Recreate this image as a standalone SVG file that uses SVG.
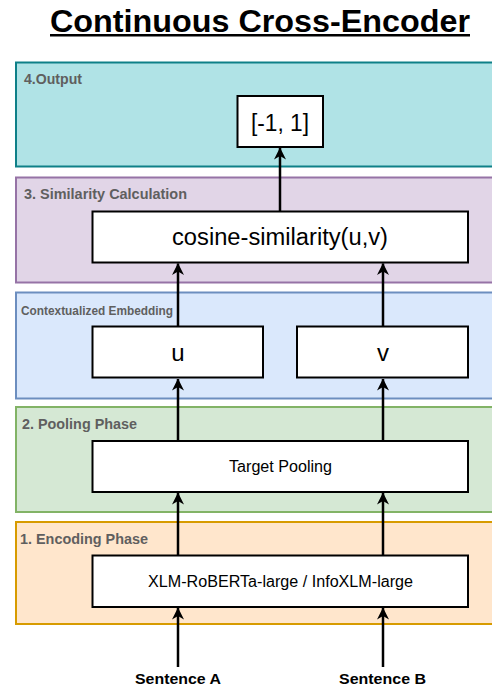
<svg xmlns="http://www.w3.org/2000/svg" width="492" height="686" viewBox="0 0 492 686">
<style>
.layer{stroke-width:2}
.lbl{font-family:"Liberation Sans",Arial,sans-serif;font-weight:bold;fill:#5f5f5f}
.node{fill:#ffffff;stroke:#000000;stroke-width:2}
.nt{font-family:"Liberation Sans",Arial,sans-serif;fill:#000000;text-anchor:middle}
.conn{stroke:#000000;stroke-width:2.5;fill:none;marker-end:url(#ah)}
.sent{font-family:"Liberation Sans",Arial,sans-serif;font-weight:bold;font-size:15px;fill:#000000;text-anchor:middle}
</style>
<defs>
<marker id="ah" viewBox="0 0 12 12" refX="11.5" refY="6" markerWidth="12" markerHeight="12" markerUnits="userSpaceOnUse" orient="auto">
<path d="M0,0 L12,6 L0,12 L3.5,6 z" fill="#000000"/>
</marker>
</defs>
<rect width="492" height="686" fill="#ffffff"/>
<g id="title">
<text x="260" y="32" text-anchor="middle" font-family="'Liberation Sans',Arial,sans-serif" font-weight="bold" font-size="31" textLength="420" lengthAdjust="spacingAndGlyphs" fill="#000000">Continuous Cross-Encoder</text>
<rect x="50" y="34" width="420" height="2.5" fill="#000000"/>
</g>
<g id="layer-output">
<rect class="layer" x="16" y="62.5" width="490" height="104" fill="#b0e3e6" stroke="#0e8088"/>
<text class="lbl" x="24" y="84" font-size="14" textLength="58" lengthAdjust="spacingAndGlyphs">4.Output</text>
</g>
<g id="layer-similarity">
<rect class="layer" x="16" y="177.5" width="490" height="105" fill="#e1d5e7" stroke="#9673a6"/>
<text class="lbl" x="24" y="199" font-size="14" textLength="163" lengthAdjust="spacingAndGlyphs">3. Similarity Calculation</text>
</g>
<g id="layer-embedding">
<rect class="layer" x="16" y="292.5" width="490" height="106" fill="#dae8fc" stroke="#6c8ebf"/>
<text class="lbl" x="21" y="315" font-size="12" textLength="152" lengthAdjust="spacingAndGlyphs">Contextualized Embedding</text>
</g>
<g id="layer-pooling">
<rect class="layer" x="16" y="407" width="490" height="105" fill="#d5e8d4" stroke="#82b366"/>
<text class="lbl" x="22" y="429" font-size="14" textLength="115" lengthAdjust="spacingAndGlyphs">2. Pooling Phase</text>
</g>
<g id="layer-encoding">
<rect class="layer" x="16" y="522" width="490" height="102" fill="#ffe6cc" stroke="#d79b00"/>
<text class="lbl" x="20" y="543.5" font-size="14" textLength="128" lengthAdjust="spacingAndGlyphs">1. Encoding Phase</text>
</g>
<g id="connectors">
<line class="conn" x1="280" y1="211.5" x2="280" y2="148"/>
<line class="conn" x1="178" y1="326.5" x2="178" y2="263.5"/>
<line class="conn" x1="383" y1="326.5" x2="383" y2="263.5"/>
<line class="conn" x1="178" y1="441" x2="178" y2="379"/>
<line class="conn" x1="383" y1="441" x2="383" y2="379"/>
<line class="conn" x1="178" y1="555.5" x2="178" y2="493"/>
<line class="conn" x1="383" y1="555.5" x2="383" y2="493"/>
<line class="conn" x1="178" y1="667" x2="178" y2="608"/>
<line class="conn" x1="383" y1="667" x2="383" y2="608"/>
</g>
<g id="node-output">
<rect class="node" x="237.5" y="96" width="85.5" height="51"/>
<text class="nt" x="280" y="131" font-size="23" textLength="58" lengthAdjust="spacingAndGlyphs">[-1, 1]</text>
</g>
<g id="node-cosine">
<rect class="node" x="92.5" y="211.5" width="375.5" height="51"/>
<text class="nt" x="280" y="245" font-size="23.5" textLength="216" lengthAdjust="spacingAndGlyphs">cosine-similarity(u,v)</text>
</g>
<g id="node-u">
<rect class="node" x="92.5" y="326.5" width="170.5" height="51"/>
<text class="nt" x="178" y="361" font-size="24">u</text>
</g>
<g id="node-v">
<rect class="node" x="297" y="326.5" width="171" height="51"/>
<text class="nt" x="383" y="361" font-size="24">v</text>
</g>
<g id="node-pooling">
<rect class="node" x="92.5" y="441" width="375.5" height="51"/>
<text class="nt" x="280.5" y="472" font-size="16" textLength="103" lengthAdjust="spacingAndGlyphs">Target Pooling</text>
</g>
<g id="node-encoder">
<rect class="node" x="92.5" y="555.5" width="375.5" height="51.5"/>
<text class="nt" x="280.5" y="587" font-size="16" textLength="265" lengthAdjust="spacingAndGlyphs">XLM-RoBERTa-large / InfoXLM-large</text>
</g>
<g id="sentence-a">
<text class="sent" x="178" y="684" textLength="86" lengthAdjust="spacingAndGlyphs">Sentence A</text>
</g>
<g id="sentence-b">
<text class="sent" x="382.5" y="684" textLength="87" lengthAdjust="spacingAndGlyphs">Sentence B</text>
</g>
</svg>
